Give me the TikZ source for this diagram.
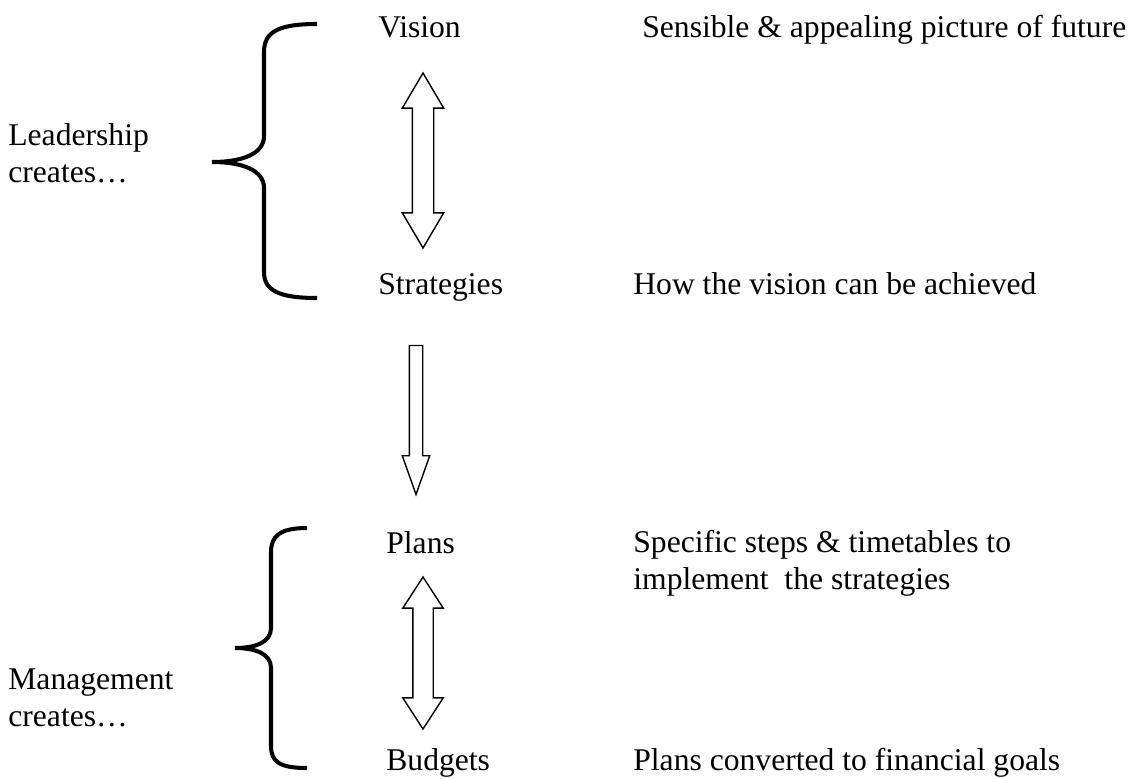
\documentclass[tikz,border=0pt]{standalone}
\usepackage{fontspec}
\setmainfont{Liberation Serif}
\usetikzlibrary{shapes.arrows}
\tikzset{
	lbl/.style={anchor=base west, inner sep=0pt, align=left, font=\fontsize{18}{20.5}\selectfont},
	brace/.style={line width=2.3pt},
	dblarrow/.style={double arrow, draw, line width=0.8pt, rotate=90, inner xsep=0pt, minimum width=0pt},
	onearrow/.style={single arrow, draw, line width=0.8pt, rotate=-90, inner xsep=0pt, minimum width=0pt}
}
\begin{document}
\begin{tikzpicture}[x=0.02cm, y=-0.02cm]
			\useasboundingbox (0,0) rectangle (1135,778);
			% middle column
			\node[lbl] (vision) at (378,37) {Vision};
			\node[lbl] (strategies) at (378,294) {Strategies};
			\node[lbl] (plans) at (386,553) {Plans};
			\node[lbl] (budgets) at (386,770) {Budgets};
			% right column (two-line nodes sit on their last line)
			\node[lbl] (visiontxt) at (642,37) {Sensible \& appealing picture of future};
			\node[lbl] (strattxt) at (633,294) {How the vision can be achieved};
			\node[lbl] (planstxt) at (633,589) {Specific steps \& timetables to\\implement\ \ the strategies};
			\node[lbl] (budgtxt) at (633,770) {Plans converted to financial goals};
			% left column
			\node[lbl] (leader) at (8,182) {Leadership\\creates\ldots};
			\node[lbl] (manage) at (8,726) {Management\\creates\ldots};
			% block arrows
			\node[dblarrow, minimum height=3.5cm, inner ysep=0.2cm, double arrow head extend=0.2cm, double arrow tip angle=61] (vsarrow) at (423,160.5) {};
			\node[onearrow, minimum height=2.98cm, inner ysep=0.12cm, single arrow head extend=0.14cm, single arrow tip angle=39] (sparrow) at (416,410.5) {};
			\node[dblarrow, minimum height=3.04cm, inner ysep=0.19cm, double arrow head extend=0.2cm, double arrow tip angle=66] (pbarrow) at (423,653) {};
			% braces
			\draw[brace] (317,24) .. controls (278,24) and (264,32) .. (264,52) -- (264,136)
				.. controls (264,154) and (242,162) .. (212,162)
				.. controls (242,162) and (264,170) .. (264,188) -- (264,272)
				.. controls (264,290) and (278,298) .. (317,298);
			\draw[brace] (307,528) .. controls (280,528) and (271,536) .. (271,552) -- (271,628)
				.. controls (271,642) and (256,648) .. (235,648)
				.. controls (256,648) and (271,654) .. (271,668) -- (271,746)
				.. controls (271,762) and (280,768) .. (307,768);
		\end{tikzpicture}
\end{document}
